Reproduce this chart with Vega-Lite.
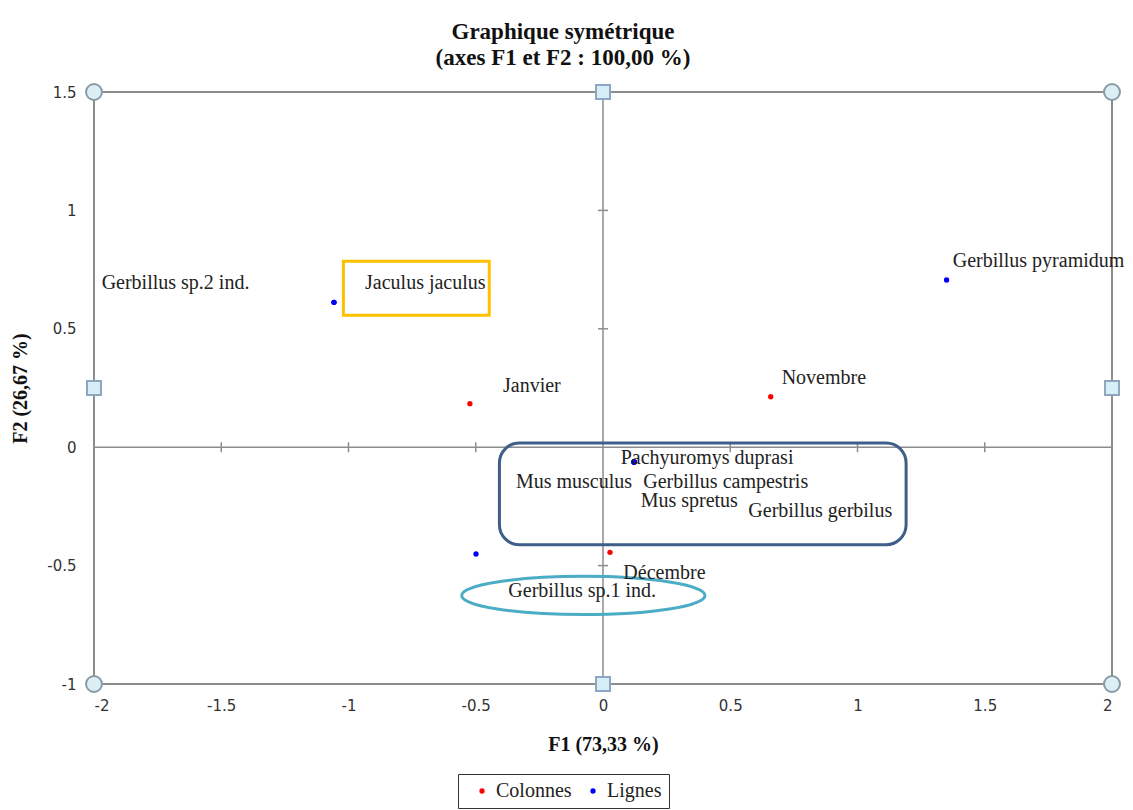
{
  "$schema": "https://vega.github.io/schema/vega-lite/v6.json",
  "width": 1018,
  "height": 592,
  "autosize": "none",
  "padding": {"left": 94, "top": 92, "right": 21, "bottom": 126},
  "background": "white",
  "title": {
    "text": ["Graphique symétrique", "(axes F1 et F2 : 100,00 %)"],
    "font": "Liberation Serif",
    "fontSize": 23,
    "fontWeight": "bold",
    "color": "#111111",
    "anchor": "middle",
    "frame": "group",
    "dx": -40,
    "offset": 10,
    "lineHeight": 26
  },
  "config": {
    "view": {"stroke": "#8c8c8c", "strokeWidth": 2},
    "axis": {
      "domain": false,
      "ticks": false,
      "grid": false,
      "labelFont": "DejaVu Sans",
      "labelFontSize": 15,
      "labelColor": "#333333",
      "titleFont": "Liberation Serif",
      "titleFontSize": 20,
      "titleFontWeight": "bold",
      "titleColor": "#111111"
    },
    "axisX": {"labelPadding": 14, "titlePadding": 21},
    "axisY": {"labelPadding": 18, "titlePadding": 16},
    "legend": {
      "orient": "none",
      "legendX": 364,
      "legendY": 682,
      "direction": "horizontal",
      "strokeColor": "#333333",
      "padding": 7,
      "labelFont": "Liberation Serif",
      "labelFontSize": 20,
      "labelColor": "#222222",
      "symbolType": "circle",
      "symbolSize": 28,
      "symbolOffset": 7,
      "columnPadding": 4,
      "labelOffset": 4,
      "symbolStrokeWidth": 0
    }
  },
  "datasets": {
    "points": [
      {"serie": "Colonnes", "name": "Janvier", "f1": -0.523, "f2": 0.184, "label_f1": -0.393, "label_f2": 0.26},
      {"serie": "Colonnes", "name": "Novembre", "f1": 0.659, "f2": 0.213, "label_f1": 0.702, "label_f2": 0.292},
      {"serie": "Colonnes", "name": "Décembre", "f1": 0.0275, "f2": -0.444, "label_f1": 0.08, "label_f2": -0.531},
      {"serie": "Lignes", "name": "Gerbillus sp.2 ind.", "f1": -1.057, "f2": 0.612, "label_f1": -1.97, "label_f2": 0.693},
      {"serie": "Lignes", "name": "Jaculus jaculus", "f1": -1.057, "f2": 0.612, "label_f1": -0.935, "label_f2": 0.693},
      {"serie": "Lignes", "name": "Gerbillus pyramidum", "f1": 1.35, "f2": 0.706, "label_f1": 1.374, "label_f2": 0.785},
      {"serie": "Lignes", "name": "Pachyuromys duprasi", "f1": 0.122, "f2": -0.0625, "label_f1": 0.0695, "label_f2": -0.0456},
      {"serie": "Lignes", "name": "Mus musculus", "f1": 0.122, "f2": -0.0625, "label_f1": -0.342, "label_f2": -0.147},
      {"serie": "Lignes", "name": "Gerbillus campestris", "f1": 0.122, "f2": -0.0625, "label_f1": 0.158, "label_f2": -0.147},
      {"serie": "Lignes", "name": "Mus spretus", "f1": 0.122, "f2": -0.0625, "label_f1": 0.148, "label_f2": -0.229},
      {"serie": "Lignes", "name": "Gerbillus gerbilus", "f1": 0.122, "f2": -0.0625, "label_f1": 0.571, "label_f2": -0.268},
      {"serie": "Lignes", "name": "Gerbillus sp.1 ind.", "f1": -0.499, "f2": -0.451, "label_f1": -0.372, "label_f2": -0.609}
    ],
    "handles": [
      {"kind": "corner", "f1": -2, "f2": 1.5},
      {"kind": "corner", "f1": 2, "f2": 1.5},
      {"kind": "corner", "f1": -2, "f2": -1},
      {"kind": "corner", "f1": 2, "f2": -1},
      {"kind": "side", "f1": 0, "f2": 1.5},
      {"kind": "side", "f1": 0, "f2": -1},
      {"kind": "side", "f1": -2, "f2": 0.25},
      {"kind": "side", "f1": 2, "f2": 0.25}
    ]
  },
  "layer": [
    {
      "data": {"values": [{"f1": 0}]},
      "mark": {"type": "rule", "color": "#8c8c8c", "strokeWidth": 1.5},
      "encoding": {"x": {"field": "f1", "type": "quantitative"}}
    },
    {
      "data": {"values": [{"f2": 0}]},
      "mark": {"type": "rule", "color": "#8c8c8c", "strokeWidth": 1.5},
      "encoding": {"y": {"field": "f2", "type": "quantitative"}}
    },
    {
      "data": {"values": [{"f1": -1.5}, {"f1": -1}, {"f1": -0.5}, {"f1": 0.5}, {"f1": 1}, {"f1": 1.5}]},
      "mark": {"type": "tick", "orient": "vertical", "size": 10, "thickness": 1.5, "color": "#8c8c8c", "opacity": 1},
      "encoding": {
        "x": {"field": "f1", "type": "quantitative"},
        "y": {"datum": 0, "type": "quantitative"}
      }
    },
    {
      "data": {"values": [{"f2": 1}, {"f2": 0.5}, {"f2": -0.5}]},
      "mark": {"type": "tick", "orient": "horizontal", "size": 10, "thickness": 1.5, "color": "#8c8c8c", "opacity": 1},
      "encoding": {
        "y": {"field": "f2", "type": "quantitative"},
        "x": {"datum": 0, "type": "quantitative"}
      }
    },
    {
      "data": {"name": "points"},
      "mark": {"type": "circle", "size": 28, "opacity": 1},
      "encoding": {
        "x": {
          "field": "f1", "type": "quantitative",
          "scale": {"domain": [-2, 2], "nice": false, "zero": false},
          "axis": {"title": "F1 (73,33 %)", "values": [-2, -1.5, -1, -0.5, 0, 0.5, 1, 1.5, 2], "labelExpr": "toString(datum.value)"}
        },
        "y": {
          "field": "f2", "type": "quantitative",
          "scale": {"domain": [-1, 1.5], "nice": false, "zero": false},
          "axis": {"title": "F2 (26,67 %)", "values": [-1, -0.5, 0, 0.5, 1, 1.5], "labelExpr": "toString(datum.value)"}
        },
        "color": {
          "field": "serie", "type": "nominal",
          "scale": {"domain": ["Colonnes", "Lignes"], "range": ["#ff0000", "#0000ff"]},
          "legend": {"title": null, "encode": {"legend": {"update": {"strokeWidth": {"value": 2}}}}}
        }
      }
    },
    {
      "data": {"values": [{"f1": -1.02, "f1b": -0.447, "f2": 0.785, "f2b": 0.557}]},
      "mark": {"type": "rect", "fill": null, "fillOpacity": 0, "stroke": "#FFC000", "strokeWidth": 3},
      "encoding": {
        "x": {"field": "f1", "type": "quantitative"},
        "x2": {"field": "f1b"},
        "y": {"field": "f2", "type": "quantitative"},
        "y2": {"field": "f2b"}
      }
    },
    {
      "data": {"values": [{"f1": -0.407, "f1b": 1.191, "f2": 0.0177, "f2b": -0.412}]},
      "mark": {"type": "rect", "fill": null, "fillOpacity": 0, "stroke": "#3F5F8A", "strokeWidth": 3, "cornerRadius": 20},
      "encoding": {
        "x": {"field": "f1", "type": "quantitative"},
        "x2": {"field": "f1b"},
        "y": {"field": "f2", "type": "quantitative"},
        "y2": {"field": "f2b"}
      }
    },
    {
      "data": {"values": [{"f1": -0.0773, "f2": -0.626}]},
      "mark": {
        "type": "point",
        "shape": "M -1 0 A 1 0.157 0 1 0 1 0 A 1 0.157 0 1 0 -1 0 Z",
        "size": 59195,
        "filled": false,
        "stroke": "#4BACC6",
        "strokeWidth": 3,
        "opacity": 1
      },
      "encoding": {
        "x": {"field": "f1", "type": "quantitative"},
        "y": {"field": "f2", "type": "quantitative"}
      }
    },
    {
      "data": {"name": "points"},
      "mark": {"type": "text", "align": "left", "baseline": "middle", "font": "Liberation Serif", "fontSize": 20, "color": "#222222"},
      "encoding": {
        "x": {"field": "label_f1", "type": "quantitative"},
        "y": {"field": "label_f2", "type": "quantitative"},
        "text": {"field": "name"}
      }
    },
    {
      "data": {"name": "handles"},
      "transform": [{"filter": "datum.kind === 'corner'"}],
      "mark": {"type": "point", "shape": "circle", "size": 254, "filled": true, "fill": "#DCEFF5", "stroke": "#8A9AA6", "strokeWidth": 2, "opacity": 1},
      "encoding": {
        "x": {"field": "f1", "type": "quantitative"},
        "y": {"field": "f2", "type": "quantitative"}
      }
    },
    {
      "data": {"name": "handles"},
      "transform": [{"filter": "datum.kind === 'side'"}],
      "mark": {"type": "point", "shape": "square", "size": 196, "filled": true, "fill": "#D6EEF7", "stroke": "#8FA6BE", "strokeWidth": 2, "opacity": 1},
      "encoding": {
        "x": {"field": "f1", "type": "quantitative"},
        "y": {"field": "f2", "type": "quantitative"}
      }
    }
  ]
}
